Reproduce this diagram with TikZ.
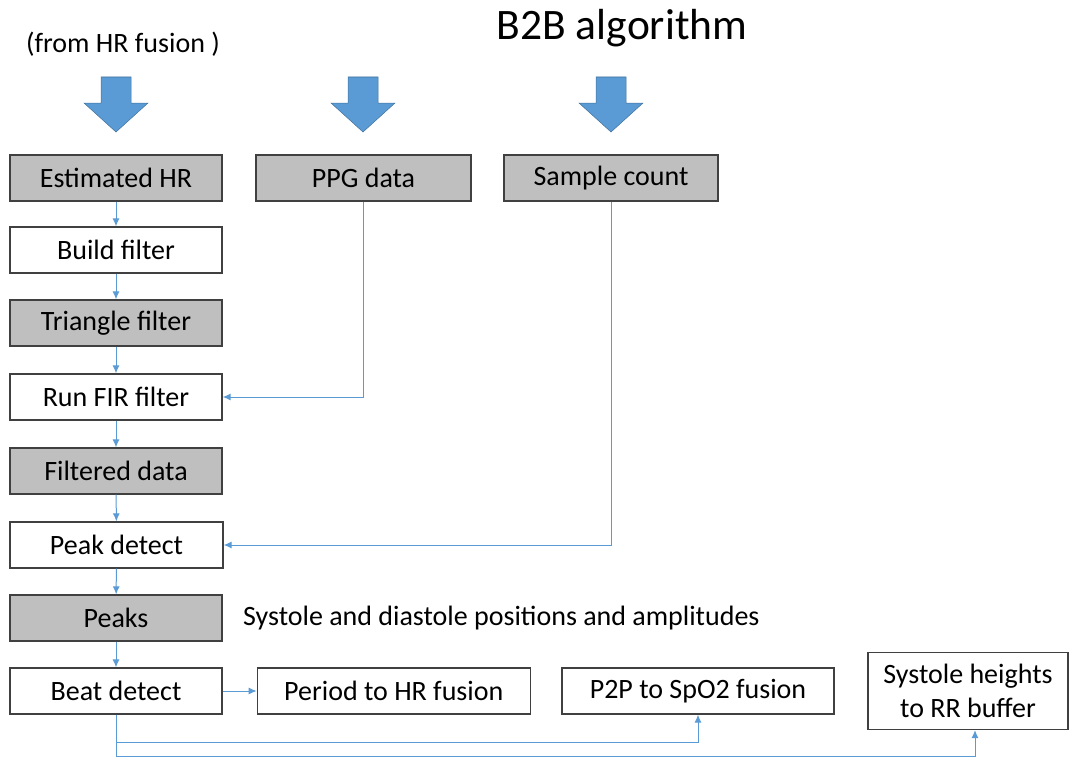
\documentclass[tikz,border=0pt]{standalone}
\usepackage{fontspec}
\setmainfont{Carlito}
\usepackage{tikz}
\usetikzlibrary{arrows.meta, positioning}
\definecolor{B2BBlue}{RGB}{91, 155, 213}
\definecolor{B2BEdge}{RGB}{65, 113, 156}
\definecolor{B2BGray}{RGB}{191, 191, 191}
\definecolor{B2BBorder}{RGB}{64, 64, 64}

\begin{document}
\begin{tikzpicture}[x=1pt, y=-1pt,
    stage/.style={draw=B2BBorder, line width=1.3pt, fill=white,
      minimum width=212pt, minimum height=46pt, inner sep=0pt,
      font=\fontsize{28}{34}\selectfont},
    buffer/.style={stage, fill=B2BGray},
    flow/.style={draw=B2BBlue, line width=1pt, -{Latex[length=8pt, width=7pt]}}
  ]
  \useasboundingbox (0,0) rectangle (1076,760);

  % headings
  \node (title) at (622,28) {\fontsize{43.5}{50}\selectfont B2B algorithm};
  \node (fromhr) at (123,44) {\fontsize{28}{34}\selectfont (from HR fusion )};

  % big input arrows
  \foreach \ax in {116,363,611}
    \filldraw[fill=B2BBlue, draw=B2BEdge, line width=0.5pt]
      (\ax-15,77) -- (\ax+15,77) -- (\ax+15,103) -- (\ax+32,103)
      -- (\ax,132) -- (\ax-32,103) -- (\ax-15,103) -- cycle;

  % inputs
  \node[buffer] (esthr) at (116,178) {Estimated HR};
  \node[buffer, minimum width=215pt] (ppg) at (363.5,178) {PPG data};
  \node[buffer, minimum width=214pt] (sample) at (611,178) {Sample count};

  % main chain
  \node[stage] (build) at (116,250) {Build filter};
  \node[buffer] (triangle) at (116,323) {Triangle filter};
  \node[stage] (fir) at (116,397) {Run FIR filter};
  \node[buffer] (filtered) at (116,471) {Filtered data};
  \node[stage, minimum width=213pt] (peak) at (116.5,545) {Peak detect};
  \node[buffer] (peaks) at (116,618) {Peaks};
  \node[stage] (beat) at (116,691) {Beat detect};

  \node[anchor=west, inner sep=0pt, font=\fontsize{28}{34}\selectfont] (peaknote)
    at (243,618) {Systole and diastole positions and amplitudes};

  % outputs
  \node[stage, minimum width=273pt, right=34pt of beat] (period) {Period to HR fusion};
  \node[stage, minimum width=272pt] (p2p) at (698,691) {P2P to SpO2 fusion};
  \node[stage, minimum width=200pt, minimum height=77pt, align=center]
    (rrbuf) at (968,691) {Systole heights\\to RR buffer};

  % connectors
  \draw[flow] (esthr) -- (build);
  \draw[flow] (build) -- (triangle);
  \draw[flow] (triangle) -- (fir);
  \draw[flow] (fir) -- (filtered);
  \draw[flow] (filtered) -- (peak);
  \draw[flow] (peak) -- (peaks);
  \draw[flow] (peaks) -- (beat);
  \draw[flow] (ppg.south) |- (fir.east);
  \draw[flow] (sample.south) |- (peak.east);
  \draw[flow] (beat) -- (period);
  \draw[flow] (beat.south) -- ++(0,28) -| (p2p.south);
  \draw[flow] (beat.south) -- ++(0,42) -| ([xshift=7pt]rrbuf.south);
\end{tikzpicture}
\end{document}
